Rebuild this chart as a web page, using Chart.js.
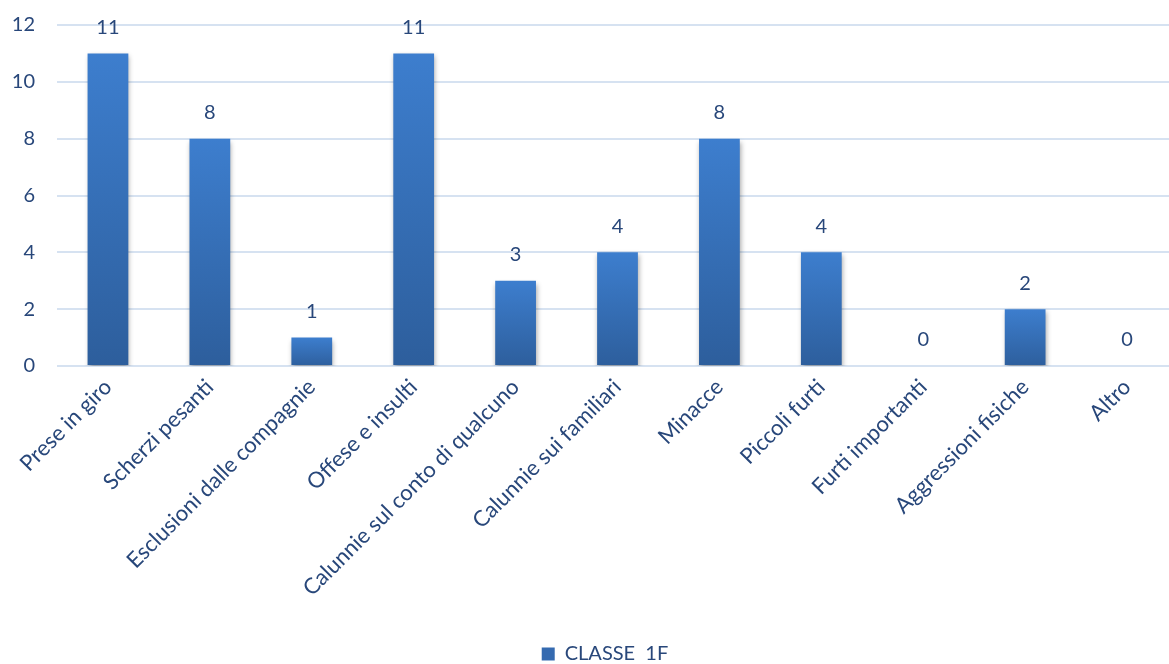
<!DOCTYPE html>
<html>
<head>
<meta charset="utf-8">
<script src="https://cdn.jsdelivr.net/npm/chart.js@4"></script>
<style>
  html, body { margin: 0; padding: 0; background: #fff; overflow: hidden; }
  #wrap { position: relative; top: -9px; width: 1178px; height: 683px; }
</style>
</head>
<body>
<div id="wrap"><canvas id="barChart"></canvas></div>
<script>
const categories = ['Prese in giro', 'Scherzi pesanti', 'Esclusioni dalle compagnie', 'Offese e insulti',
  'Calunnie sul conto di qualcuno', 'Calunnie sui familiari', 'Minacce', 'Piccoli furti',
  'Furti importanti', 'Aggressioni fisiche', 'Altro'];
const classe1F = [11, 8, 1, 11, 3, 4, 8, 4, 0, 2, 0];
const yTicks = [0, 2, 4, 6, 8, 10, 12];

const textColor = '#28477a';
const font = 'Lato, "Open Sans", sans-serif';

function barGradient(c) {
  const chart = c.chart;
  if (!chart.chartArea || c.raw === undefined) return '#3872bd';
  const y = chart.scales.y;
  const top = y.getPixelForValue(c.raw);
  const bottom = y.getPixelForValue(0);
  const g = chart.ctx.createLinearGradient(0, top, 0, bottom + 1);
  g.addColorStop(0, '#3d7ece');
  g.addColorStop(1, '#2d5e9c');
  return g;
}

const barShadow = {
  id: 'barShadow',
  beforeDatasetDraw(chart) {
    const ctx = chart.ctx;
    ctx.save();
    ctx.shadowColor = 'rgba(0,0,0,0.35)';
    ctx.shadowBlur = 5;
    ctx.shadowOffsetX = 1;
    ctx.shadowOffsetY = 3;
  },
  afterDatasetDraw(chart) {
    chart.ctx.restore();
  }
};

const valueLabels = {
  id: 'valueLabels',
  afterDatasetsDraw(chart) {
    const ctx = chart.ctx;
    const meta = chart.getDatasetMeta(0);
    ctx.save();
    ctx.fillStyle = textColor;
    ctx.font = '20px ' + font;
    ctx.textAlign = 'center';
    ctx.textBaseline = 'middle';
    meta.data.forEach((bar, i) => {
      ctx.fillText(String(classe1F[i]), bar.x, bar.y - 26);
    });
    ctx.restore();
  }
};

// nudge the legend a bit to the right, like the original
const legendShift = {
  id: 'legendShift',
  afterLayout(chart) {
    if (chart.legend) {
      chart.legend.left += 16;
      chart.legend.right += 16;
    }
  }
};

new Chart(document.getElementById('barChart'), {
  type: 'bar',
  data: {
    labels: categories,
    datasets: [{
      label: 'CLASSE  1F',
      data: classe1F,
      backgroundColor: barGradient,
      borderWidth: 0,
      barPercentage: 0.8,
      categoryPercentage: 0.5
    }]
  },
  options: {
    responsive: true,
    maintainAspectRatio: false,
    animation: false,
    layout: { padding: { top: 5, left: 0, right: 0, bottom: 0 } },
    plugins: {
      legend: {
        position: 'bottom',
        labels: {
          color: textColor,
          font: { family: font, size: 20 },
          boxWidth: 13,
          boxHeight: 13,
          padding: 4,
          generateLabels: () => [{ text: 'CLASSE  1F', fillStyle: '#356ab0', strokeStyle: '#356ab0', lineWidth: 0, fontColor: textColor }]
        }
      },
      tooltip: { enabled: false }
    },
    scales: {
      x: {
        grid: { display: false },
        border: { display: false },
        ticks: {
          color: textColor,
          font: { family: font, size: 22 },
          maxRotation: 45,
          minRotation: 45,
          autoSkip: false,
          padding: 0
        },
        afterFit(scale) { scale.height = 274; }
      },
      y: {
        min: 0,
        max: 12,
        afterBuildTicks(scale) { scale.ticks = yTicks.map(v => ({ value: v })); },
        grid: { color: '#d6e2f1', lineWidth: 2, drawTicks: false },
        border: { display: false },
        ticks: {
          color: textColor,
          font: { family: font, size: 20 },
          padding: 22
        },
        afterFit(scale) { scale.width = 57; }
      }
    }
  },
  plugins: [barShadow, valueLabels, legendShift]
});
</script>
</body>
</html>
